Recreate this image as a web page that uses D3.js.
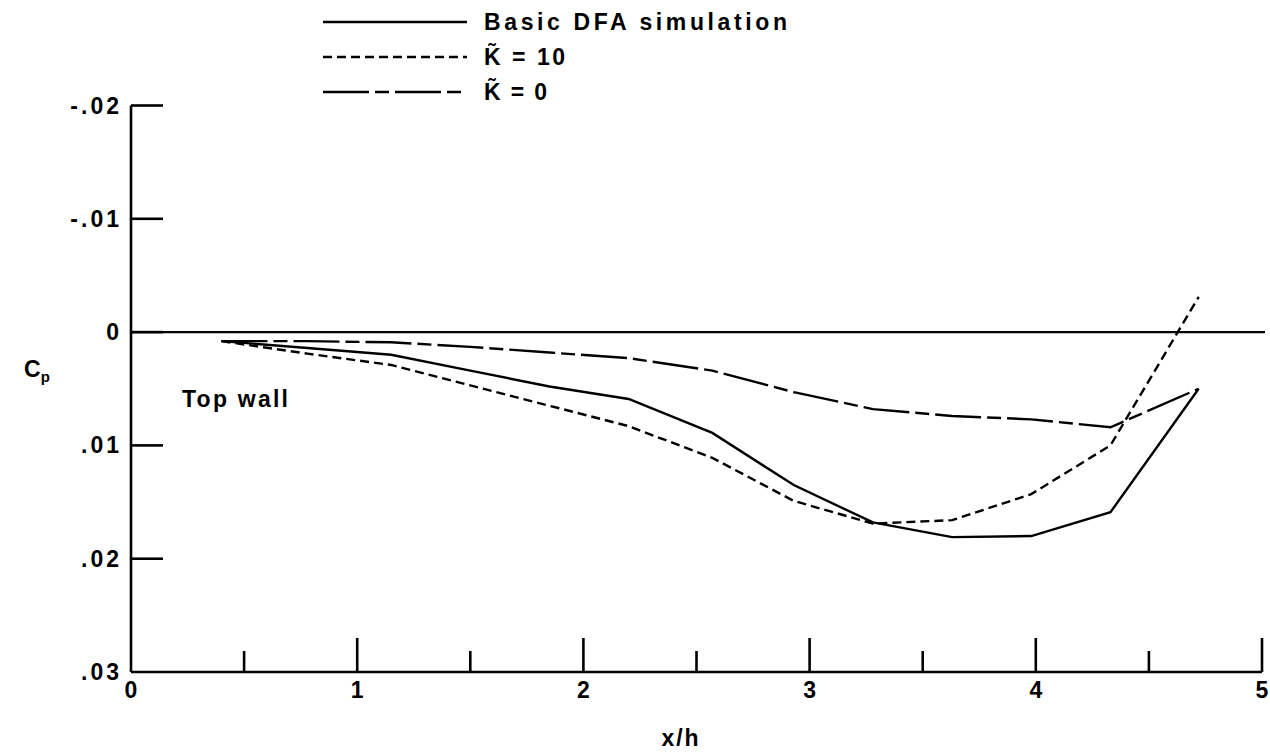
<!DOCTYPE html>
<html><head><meta charset="utf-8">
<script src="https://cdn.jsdelivr.net/npm/d3@7"></script>
<style>
html,body{margin:0;padding:0;background:#fff;}
text{font-family:"Liberation Sans",Arial,sans-serif;font-weight:bold;fill:#000;}
</style></head>
<body>
<svg id="chart" width="1270" height="752"></svg>
<script>
// ---- data ----
const xPositions = [0.40, 0.78, 1.15, 1.50, 1.85, 2.20, 2.57, 2.93, 3.28, 3.63, 3.98, 4.33, 4.72];
const basicDFA   = [0.0008, 0.0014, 0.0020, 0.0034, 0.0048, 0.0059, 0.0089, 0.0135, 0.0168, 0.0181, 0.0180, 0.0159, 0.0050];
const kTilde10   = [0.0008, 0.0019, 0.0029, 0.0047, 0.0065, 0.0083, 0.0111, 0.0149, 0.0169, 0.0166, 0.0143, 0.0100, -0.0031];
const kTilde0    = [0.0008, 0.0008, 0.0009, 0.0013, 0.0018, 0.0023, 0.0034, 0.0053, 0.0068, 0.0074, 0.0077, 0.0084, 0.0050];
const xTicks = [0, 1, 2, 3, 4, 5];
const xMinorTicks = [0.5, 1.5, 2.5, 3.5, 4.5];
const yTicks = [-0.02, -0.01, 0, 0.01, 0.02, 0.03];
const yTickLabels = ["-.02", "-.01", "0", ".01", ".02", ".03"];
const seriesNames = ["Basic DFA simulation", "K\u0303 = 10", "K\u0303 = 0"];

const svg = d3.select("#chart");
const x = d3.scaleLinear().domain([0, 5]).range([131, 1262]);
const y = d3.scaleLinear().domain([-0.02, 0.03]).range([105.5, 672]);
const AX = 2.6;
const FS = 23;

// axes: left and bottom
svg.append("line").attr("x1", x(0)).attr("x2", x(0)).attr("y1", y(-0.02)).attr("y2", y(0.03))
  .attr("stroke", "#000").attr("stroke-width", AX);
svg.append("line").attr("x1", x(0)).attr("x2", x(5)).attr("y1", y(0.03)).attr("y2", y(0.03))
  .attr("stroke", "#000").attr("stroke-width", AX);
// zero line
svg.append("line").attr("x1", x(0)).attr("x2", x(5) + 3).attr("y1", y(0)).attr("y2", y(0))
  .attr("stroke", "#000").attr("stroke-width", 2.4);

// y ticks (inward)
svg.selectAll(".yt").data(yTicks.filter(d => d < 0.03)).enter().append("line")
  .attr("x1", x(0)).attr("x2", x(0) + 32).attr("y1", d => y(d)).attr("y2", d => y(d))
  .attr("stroke", "#000").attr("stroke-width", AX);
svg.selectAll(".ytl").data(yTicks).enter().append("text")
  .attr("x", 122).attr("y", d => y(d) + 8).attr("text-anchor", "end")
  .attr("font-size", FS).attr("letter-spacing", 3)
  .text((d, i) => yTickLabels[i]);

// x ticks (inward)
svg.selectAll(".xt").data(xTicks.filter(d => d > 0)).enter().append("line")
  .attr("x1", d => x(d)).attr("x2", d => x(d)).attr("y1", y(0.03)).attr("y2", y(0.03) - 34)
  .attr("stroke", "#000").attr("stroke-width", AX);
svg.selectAll(".xm").data(xMinorTicks).enter().append("line")
  .attr("x1", d => x(d)).attr("x2", d => x(d)).attr("y1", y(0.03)).attr("y2", y(0.03) - 21)
  .attr("stroke", "#000").attr("stroke-width", AX);
svg.selectAll(".xtl").data(xTicks).enter().append("text")
  .attr("x", d => x(d)).attr("y", 698).attr("text-anchor", "middle")
  .attr("font-size", FS).text(d => d);

// axis titles
svg.append("text").attr("x", 681).attr("y", 746).attr("text-anchor", "middle")
  .attr("font-size", FS).attr("letter-spacing", 2).text("x/h");
const cp = svg.append("text").attr("x", 24).attr("y", 377).attr("font-size", FS);
cp.append("tspan").text("C");
cp.append("tspan").attr("font-size", 15).attr("dy", 5).text("p");
svg.append("text").attr("x", 182).attr("y", 407).attr("font-size", FS)
  .attr("textLength", 106).attr("lengthAdjust", "spacing").text("Top wall");

// series lines
const styles = [
  {data: basicDFA, dash: null},
  {data: kTilde10, dash: "9,5"},
  {data: kTilde0, dash: "46,6,14,6"}
];
const line = d3.line().x(d => x(d[0])).y(d => y(d[1]));
styles.forEach(s => {
  svg.append("path").datum(xPositions.map((xv, i) => [xv, s.data[i]]))
    .attr("d", line).attr("fill", "none").attr("stroke", "#000")
    .attr("stroke-width", 2.4).attr("stroke-dasharray", s.dash)
    .attr("stroke-linejoin", "miter");
});

// legend
const legRows = [22, 57, 92];
const legWidths = [303, 81, 63];
styles.forEach((s, i) => {
  svg.append("line").attr("x1", 323).attr("x2", 467).attr("y1", legRows[i]).attr("y2", legRows[i])
    .attr("stroke", "#000").attr("stroke-width", 2.4).attr("stroke-dasharray", s.dash);
  svg.append("text").attr("x", 484).attr("y", legRows[i] + 8).attr("font-size", FS)
    .attr("textLength", legWidths[i]).attr("lengthAdjust", "spacing").text(seriesNames[i]);
});
</script>
</body></html>
